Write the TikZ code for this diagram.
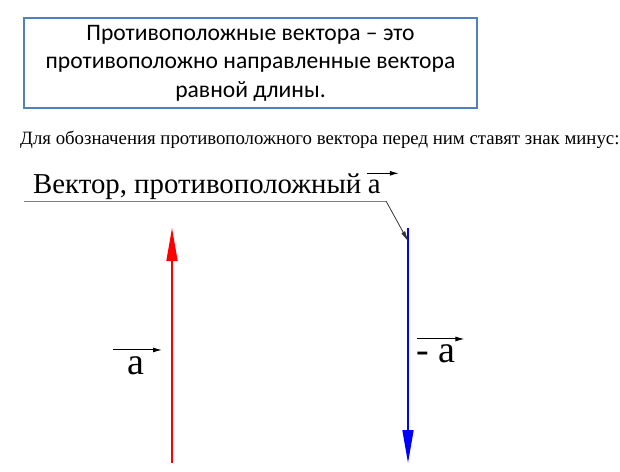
\documentclass[tikz,border=0pt]{standalone}
\usepackage{fontspec}
\setmainfont{Liberation Serif}
\newfontfamily\boxfont{Carlito}
\usetikzlibrary{arrows.meta,positioning}
\definecolor{boxblue}{RGB}{79,129,189}

\begin{document}
\begin{tikzpicture}
	[
		x=1pt, y=-1pt,
		defbox/.style={rectangle, draw=boxblue, line width=2.2pt, minimum width=453pt, minimum height=90pt, align=center, font=\boxfont\fontsize{23.6}{28.5}\selectfont},
		vecline/.style={line width=1.6pt, -{Triangle[length=33pt,width=11pt]}},
		vecbar/.style={line width=1pt, -{Latex[length=9pt,width=5pt]}},
		leader/.style={draw=gray, line width=0.8pt},
		plain/.style={inner sep=0pt},
	]
	\useasboundingbox (0,0) rectangle (620,471);

	\node[defbox] (defn) at (250.5,63) {Противоположные вектора – это\\противоположно направленные вектора\\равной длины.};
	\node[plain, font=\fontsize{18.8}{20}\selectfont, anchor=west] (note) at (20,140) {Для обозначения противоположного вектора перед ним ставят знак минус:};

	% vectors
	\coordinate (redbot) at (172,463);
	\coordinate (redtop) at (172,228);
	\coordinate (bluetop) at (408,228);
	\coordinate (bluebot) at (408,463);
	\draw[vecline, red] (redbot) -- (redtop);
	\draw[vecline, blue] (bluetop) -- (bluebot);

	% leader with caption
	\node[plain, font=\fontsize{28.8}{30}\selectfont, anchor=base west] (caption) at (33,193) {Вектор, противоположный};
	\node[plain, font=\fontsize{28.8}{30}\selectfont, anchor=base west] (captvec) at ([xshift=6pt]caption.base east) {а};
	\draw[vecbar] ([xshift=-1pt,yshift=6pt]captvec.north west) -- ([xshift=18pt,yshift=6pt]captvec.north east);
	\coordinate (leadstart) at (24,201);
	\coordinate (leadbend) at (386,201);
	\coordinate (leadtip) at (408,241);
	\draw[leader] (leadstart) -- (leadbend);
	\draw[leader, draw=black!80, -{Triangle[length=10pt,width=4pt]}] (leadbend) -- (leadtip);

	% labels
	\node[plain, font=\fontsize{38}{40}\selectfont, anchor=base] (alabel) at (136,374) {а};
	\draw[vecbar] ([xshift=-23pt,yshift=6pt]alabel.north) -- ([xshift=26pt,yshift=6pt]alabel.north);
	\node[plain, font=\fontsize{38}{40}\selectfont, anchor=base west] (malabel) at (416,362) {- а};
	\draw[vecbar] ([xshift=1pt,yshift=5pt]malabel.north west) -- ([xshift=9pt,yshift=5pt]malabel.north east);
\end{tikzpicture}
\end{document}
